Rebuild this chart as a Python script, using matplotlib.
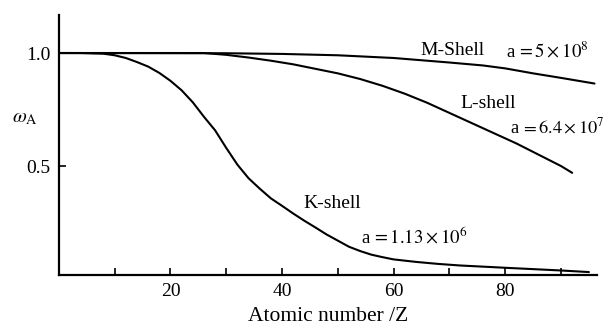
import matplotlib
matplotlib.use('Agg')
import matplotlib.pyplot as plt

# Auger yield curves

z_k = [0, 4, 8, 10, 12, 14, 16, 18, 20, 22, 24, 26, 28, 30, 32, 34, 36, 38,
       40, 42, 44, 46, 48, 50, 52, 54, 56, 58, 60, 64, 68, 72, 76, 80, 85,
       90, 95]
k_shell = [1.0, 1.0, 0.997, 0.99, 0.978, 0.96, 0.94, 0.912, 0.877, 0.835,
           0.782, 0.718, 0.658, 0.58, 0.506, 0.446, 0.40, 0.357, 0.324, 0.29,
           0.258, 0.228, 0.197, 0.17, 0.143, 0.124, 0.108, 0.097, 0.087,
           0.076, 0.067, 0.06, 0.055, 0.05, 0.044, 0.038, 0.031]

z_l = [0, 26, 30, 34, 38, 42, 46, 50, 54, 58, 62, 66, 70, 74, 78, 82, 86,
       90, 92]
l_shell = [1.0, 1.0, 0.992, 0.98, 0.966, 0.95, 0.93, 0.91, 0.885, 0.855,
           0.82, 0.78, 0.735, 0.69, 0.645, 0.60, 0.55, 0.50, 0.47]

z_m = [0, 30, 40, 50, 60, 70, 76, 80, 85, 90, 96]
m_shell = [1.0, 0.999, 0.996, 0.99, 0.978, 0.958, 0.945, 0.932, 0.91, 0.89,
           0.865]

x_ticks = [10, 20, 30, 40, 50, 60, 70, 80, 90]
x_labels = ['', '20', '', '40', '', '60', '', '80', '']

plt.rcParams['font.family'] = ['Liberation Serif', 'DejaVu Serif']
plt.rcParams['mathtext.fontset'] = 'stix'

fig = plt.figure(figsize=(6.07, 3.27), dpi=100)
ax = fig.add_axes([0.097, 0.159, 0.887, 0.795])

for zz, yy in [(z_k, k_shell), (z_l, l_shell), (z_m, m_shell)]:
    ax.plot(zz, yy, color='black', lw=1.5, solid_capstyle='round')

ax.set_xlim(0, 96.5)
ax.set_ylim(0.018, 1.168)

for s in ['top', 'right']:
    ax.spines[s].set_visible(False)
for s in ['left', 'bottom']:
    ax.spines[s].set_linewidth(1.6)

ax.set_xticks(x_ticks)
ax.set_xticklabels(x_labels, fontsize=14)
ax.set_yticks([0.5, 1.0])
ax.set_yticklabels(['0.5', '1.0'], fontsize=14)
ax.tick_params(axis='both', direction='in', length=5, width=1.2, pad=6)

ax.set_xlabel('Atomic number /Z', fontsize=15.5, labelpad=5)
fig.text(0.02, 0.64, r'$\omega_{\rm A}$', fontsize=14.5, ha='left', va='center')

ax.text(64.8, 0.991, 'M-Shell', fontsize=14, ha='left', va='baseline')
ax.text(80.2, 0.978, r'a$\,=5\times10^8$', fontsize=13.5, ha='left', va='baseline')
ax.text(72.0, 0.757, 'L-shell', fontsize=14, ha='left', va='baseline')
ax.text(80.9, 0.646, r'a$\,=6.4\times10^7$', fontsize=13.2, ha='left', va='baseline')
ax.text(43.9, 0.314, 'K-shell', fontsize=14, ha='left', va='baseline')
ax.text(54.1, 0.159, r'a$\,=1.13\times10^6$', fontsize=13.5, ha='left', va='baseline')

fig.savefig('out.png', dpi=100)
